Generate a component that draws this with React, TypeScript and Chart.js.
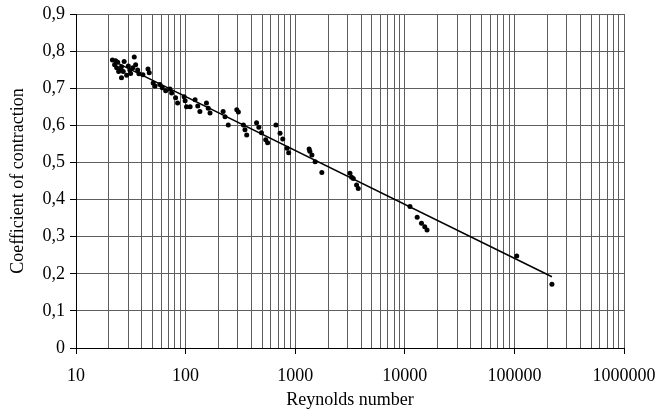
import React, { useEffect, useRef } from "react";
import { Chart, registerables } from "chart.js";

Chart.register(...registerables);

// Measured points: Reynolds number vs coefficient of contraction
const reynolds = [
  21.5, 23, 22.5, 23.5, 24.5, 26, 24, 27.5, 26, 25.5, 27, 30, 31, 31.5, 34, 35, 36.5, 37.5, 33, 29,
  40.8, 45.4, 46.6, 50.6, 52.6, 58.3, 61.2, 65.8, 72, 74.6, 81, 84.5,
  99, 97, 102, 110, 122, 129, 135, 155, 161, 167,
  220, 229, 245, 293, 303, 337, 348, 361,
  444, 466, 492, 538, 560,
  667, 727, 770, 843, 872,
  1340, 1360, 1420, 1520, 1750,
  3160, 3270, 3390, 3630, 3760,
  11150, 12970, 14200, 15200, 15950,
  105000, 220000,
];
const contraction = [
  0.776, 0.774, 0.763, 0.755, 0.745, 0.728, 0.770, 0.772, 0.758, 0.750, 0.745, 0.760, 0.749, 0.740, 0.784, 0.763, 0.749, 0.739, 0.755, 0.735,
  0.736, 0.752, 0.742, 0.714, 0.706, 0.710, 0.701, 0.693, 0.698, 0.687, 0.674, 0.660,
  0.666, 0.677, 0.650, 0.650, 0.669, 0.652, 0.637, 0.660, 0.646, 0.633,
  0.637, 0.623, 0.601, 0.642, 0.636, 0.601, 0.588, 0.574,
  0.607, 0.595, 0.580, 0.561, 0.553,
  0.601, 0.579, 0.563, 0.538, 0.526,
  0.536, 0.530, 0.520, 0.502, 0.473,
  0.471, 0.460, 0.457, 0.439, 0.430,
  0.381, 0.352, 0.336, 0.327, 0.318,
  0.248, 0.172,
];

// Fitted trend line (end points)
const trendReynolds = [22, 220000];
const trendContraction = [0.773, 0.192];

const xTickLabels = ["10", "100", "1000", "10000", "100000", "1000000"];
const yTickLabels = ["0", "0,1", "0,2", "0,3", "0,4", "0,5", "0,6", "0,7", "0,8", "0,9"];

const xDecades = xTickLabels.map((s) => Number(s));
const xGridValues: number[] = [];
xDecades.forEach((d, i) => {
  if (i === xDecades.length - 1) {
    xGridValues.push(d);
  } else {
    for (let m = 1; m <= 9; m++) xGridValues.push(d * m);
  }
});

const serif = "'Liberation Serif', 'Times New Roman', Times, serif";

export default function App() {
  const ref = useRef<HTMLCanvasElement>(null);

  useEffect(() => {
    document.body.style.margin = "0";
    const canvas = ref.current;
    if (!canvas) return;
    const labelFor = (v: number) => {
      const idx = xDecades.findIndex((d) => Math.abs(d - v) < 1e-6 * d);
      return idx >= 0 ? xTickLabels[idx] : "";
    };
    const chart = new Chart(canvas, {
      type: "scatter",
      data: {
        datasets: [
          {
            type: "line",
            data: trendReynolds.map((x, i) => ({ x, y: trendContraction[i] })),
            borderColor: "#000",
            borderWidth: 1.5,
            pointRadius: 0,
            fill: false,
            order: 0,
          } as any,
          {
            data: reynolds.map((x, i) => ({ x, y: contraction[i] })),
            backgroundColor: "#000",
            borderColor: "#000",
            borderWidth: 0,
            pointRadius: 2.5,
            order: 1,
          },
        ],
      },
      options: {
        responsive: false,
        animation: false,
        events: [],
        layout: { padding: { left: 0, right: 33, top: 14, bottom: 0 } },
        plugins: { legend: { display: false }, tooltip: { enabled: false } },
        scales: {
          x: {
            type: "logarithmic",
            position: "bottom",
            min: 10,
            max: 1000000,
            border: { color: "#000", width: 1 },
            grid: {
              color: "#5e5e5e",
              lineWidth: 1,
              tickLength: 6,
              tickColor: (c: any) => (labelFor(c.tick ? c.tick.value : 0) ? "#000" : "rgba(0,0,0,0)"),
            },
            afterBuildTicks: (s: any) => {
              s.ticks = xGridValues.map((v) => ({ value: v, major: labelFor(v) !== "" }));
            },
            ticks: {
              autoSkip: false,
              maxRotation: 0,
              minRotation: 0,
              padding: 11,
              color: "#000",
              font: { family: serif, size: 18 },
              callback: (v: any) => labelFor(Number(v)),
            },
            title: {
              display: true,
              text: "Reynolds number",
              color: "#000",
              font: { family: serif, size: 18 },
              padding: { top: 0, bottom: 1 },
            },
            afterFit: (s: any) => {
              s.height = 64;
              s.paddingLeft = 0;
              s.paddingRight = 0;
            },
          },
          y: {
            type: "linear",
            min: 0,
            max: 0.9,
            border: { color: "#000", width: 1 },
            grid: { color: "#5e5e5e", lineWidth: 1, tickLength: 6, tickColor: "#000" },
            ticks: {
              stepSize: 0.1,
              padding: 5,
              color: "#000",
              font: { family: serif, size: 18 },
              callback: (v: any) => yTickLabels[Math.round(Number(v) * 10)] ?? "",
            },
            title: {
              display: true,
              text: "Coefficient of contraction",
              color: "#000",
              font: { family: serif, size: 18 },
              padding: { top: 7, bottom: 0 },
            },
            afterFit: (s: any) => {
              s.width = 76;
              s.paddingTop = 0;
              s.paddingBottom = 0;
            },
          },
        },
      },
    });
    return () => chart.destroy();
  }, []);

  return (
    <div style={{ position: "absolute", left: 0, top: 0, width: 657, height: 412 }}>
      <canvas ref={ref} width={657} height={412} style={{ display: "block", width: 657, height: 412 }} />
    </div>
  );
}
